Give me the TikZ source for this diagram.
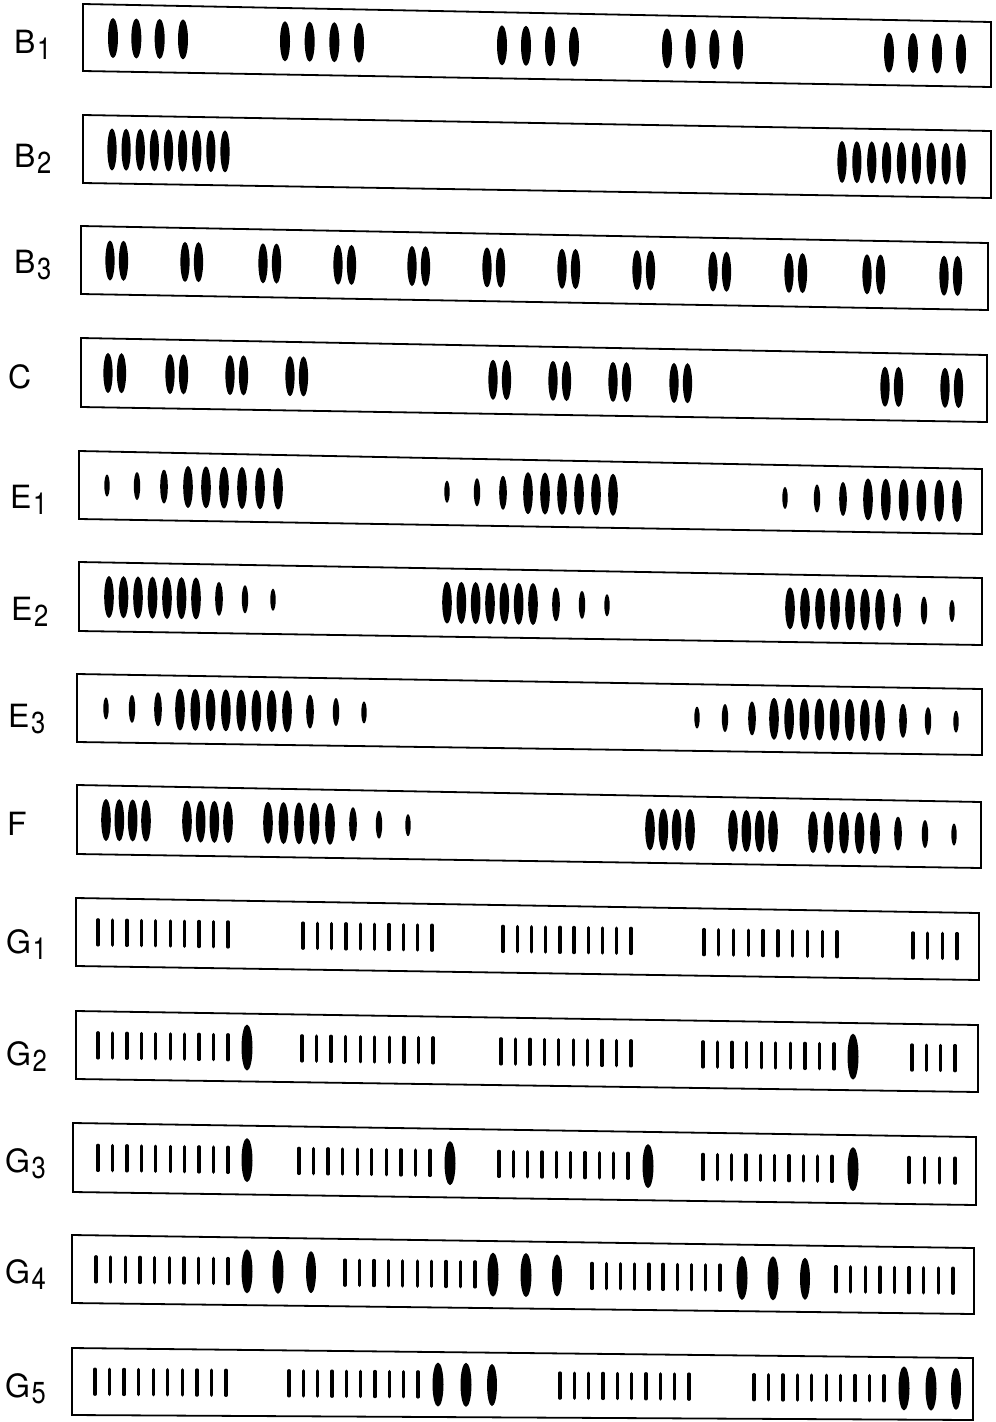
\documentclass[tikz,border=0pt]{standalone}
\usepackage{fontspec}
\setmainfont{TeX Gyre Heros}
\tikzset{
  frame/.style={draw=black, line width=1.8pt, line join=miter},
  barline/.style={line width=3.4pt, line cap=round},
  lab/.style={font=\fontsize{32}{32}\selectfont, inner sep=0pt, anchor=base west}
}
\newcommand\sbs[1]{\kern1.5pt\raisebox{-6pt}{\scalebox{0.8}[0.95]{#1}}}
\newcommand\rowframe[6]{%
  \draw[frame] (#1,-#2) -- (#4,-#5) -- (#4,-#6) -- (#1,-#3) -- cycle;
  \pgfmathsetmacro\nrk{-((#5+#6)-(#2+#3))/2/(#4-#1)}%
  \pgfmathsetmacro\nrc{-((#2+#3)/2+\nrk*#1)}%
}
\newcommand\blob[3]{\fill (#1,0) ellipse [x radius=#2, y radius=#3];}
\newcommand\blobrun[5]{%
  \foreach \i in {1,...,#3}{\pgfmathsetmacro\bx{#1+(\i-1)*(#2-#1)/(#3-1)}\fill (\bx,0) ellipse [x radius=#4, y radius=#5];}}
\newcommand\barrun[3]{%
  \foreach \i in {1,...,#3}{\pgfmathsetmacro\bx{#1+(\i-1)*(#2-#1)/(#3-1)}\draw[barline] (\bx,-12.5) -- (\bx,12.5);}}
\newcommand\sone{2.7}\newcommand\sonr{11}
\newcommand\stwo{3.2}\newcommand\stwr{14}
\newcommand\sthr{3.8}\newcommand\sthrr{17}
\newcommand\bigx{4.8}\newcommand\bigy{21}
\begin{document}
\begin{tikzpicture}[x=1pt,y=1pt]
\useasboundingbox (0,0) rectangle (996,-1422);

% ---------- B1
\node[lab] (lB1) at (14,-53) {B\sbs{1}};
\rowframe{83}{4}{71}{991}{22}{87}
\begin{scope}[cm={1,\nrk,0,1,(0,\nrc)}]
  \blobrun{113}{183}{4}{5}{20}
  \blobrun{285}{359}{4}{5}{20}
  \blobrun{502}{574}{4}{5}{20}
  \blobrun{667}{738}{4}{5}{20}
  \blobrun{889}{961}{4}{5}{20}
\end{scope}

% ---------- B2
\node[lab] (lB2) at (14,-167) {B\sbs{2}};
\rowframe{83}{115}{183}{991}{131}{198}
\begin{scope}[cm={1,\nrk,0,1,(0,\nrc)}]
  \blobrun{112}{225}{9}{4.6}{21}
  \blobrun{842}{961}{9}{4.6}{21}
\end{scope}

% ---------- B3
\node[lab] (lB3) at (14,-273) {B\sbs{3}};
\rowframe{81}{226}{294}{988}{243}{310}
\begin{scope}[cm={1,\nrk,0,1,(0,\nrc)}]
  \foreach \p in {110,185,263,338,412,487,562,637,713,789,867,944}{
    \fill (\p,0) ellipse [x radius=4.6, y radius=20];
    \fill (\p+13.5,0) ellipse [x radius=4.6, y radius=20];}
\end{scope}

% ---------- C
\node[lab] (lC) at (8,-388) {C};
\rowframe{81}{338}{407}{987}{355}{422}
\begin{scope}[cm={1,\nrk,0,1,(0,\nrc)}]
  \foreach \p in {108,170,230,290,493,553,613,674,885,945}{
    \fill (\p,0) ellipse [x radius=4.6, y radius=20];
    \fill (\p+13.5,0) ellipse [x radius=4.6, y radius=20];}
\end{scope}

% ---------- E1
\node[lab] (lE1) at (10,-508) {E\sbs{1}};
\rowframe{79}{451}{519}{982}{469}{534}
\begin{scope}[cm={1,\nrk,0,1,(0,\nrc)}]
  \blob{107}{\sone}{\sonr}\blob{137}{\stwo}{\stwr}\blob{164}{\sthr}{\sthrr}
  \blobrun{188}{278}{6}{\bigx}{\bigy}
  \blob{447}{\sone}{\sonr}\blob{477}{\stwo}{\stwr}\blob{503}{\sthr}{\sthrr}
  \blobrun{528}{613}{6}{\bigx}{\bigy}
  \blob{785}{\sone}{\sonr}\blob{817}{\stwo}{\stwr}\blob{843}{\sthr}{\sthrr}
  \blobrun{868}{957}{6}{\bigx}{\bigy}
\end{scope}

% ---------- E2
\node[lab] (lE2) at (11,-620) {E\sbs{2}};
\rowframe{79}{562}{631}{982}{578}{645}
\begin{scope}[cm={1,\nrk,0,1,(0,\nrc)}]
  \blobrun{109}{196}{7}{\bigx}{\bigy}
  \blob{219}{\sthr}{\sthrr}\blob{245}{\stwo}{\stwr}\blob{273}{\sone}{\sonr}
  \blobrun{447}{533}{7}{\bigx}{\bigy}
  \blob{556}{\sthr}{\sthrr}\blob{582}{\stwo}{\stwr}\blob{607}{\sone}{\sonr}
  \blobrun{790}{880}{7}{\bigx}{\bigy}
  \blob{897}{\sthr}{\sthrr}\blob{924}{\stwo}{\stwr}\blob{952}{\sone}{\sonr}
\end{scope}

% ---------- E3
\node[lab] (lE3) at (8,-727) {E\sbs{3}};
\rowframe{77}{674}{742}{982}{689}{755}
\begin{scope}[cm={1,\nrk,0,1,(0,\nrc)}]
  \blob{106}{\sone}{\sonr}\blob{132}{\stwo}{\stwr}\blob{158}{\sthr}{\sthrr}
  \blobrun{180}{287}{8}{\bigx}{\bigy}
  \blob{310}{\sthr}{\sthrr}\blob{336}{\stwo}{\stwr}\blob{364}{\sone}{\sonr}
  \blob{697}{\sone}{\sonr}\blob{725}{\stwo}{\stwr}\blob{752}{\sthr}{\sthrr}
  \blobrun{774}{880}{8}{\bigx}{\bigy}
  \blob{903}{\sthr}{\sthrr}\blob{928}{\stwo}{\stwr}\blob{956}{\sone}{\sonr}
\end{scope}

% ---------- F
\node[lab] (lF) at (7,-835) {F};
\rowframe{77}{785}{854}{981}{802}{868}
\begin{scope}[cm={1,\nrk,0,1,(0,\nrc)}]
  \blobrun{106}{146}{4}{\bigx}{\bigy}
  \blobrun{187}{228}{4}{\bigx}{\bigy}
  \blobrun{268}{330}{5}{\bigx}{\bigy}
  \blob{353}{\sthr}{\sthrr}\blob{379}{\stwo}{\stwr}\blob{408}{\sone}{\sonr}
  \blobrun{650}{690}{4}{\bigx}{\bigy}
  \blobrun{733}{773}{4}{\bigx}{\bigy}
  \blobrun{813}{875}{5}{\bigx}{\bigy}
  \blob{898}{\sthr}{\sthrr}\blob{925}{\stwo}{\stwr}\blob{954}{\sone}{\sonr}
\end{scope}

% ---------- G1
\node[lab] (lG1) at (6,-953) {G\sbs{1}};
\rowframe{76}{898}{966}{979}{913}{980}
\begin{scope}[cm={1,\nrk,0,1,(0,\nrc)}]
  \barrun{98}{228}{10}\barrun{303}{432}{10}\barrun{503}{631}{10}
  \barrun{704}{837}{10}\barrun{913}{957}{4}
\end{scope}

% ---------- G2
\node[lab] (lG2) at (6,-1065) {G\sbs{2}};
\rowframe{76}{1011}{1079}{978}{1025}{1092}
\begin{scope}[cm={1,\nrk,0,1,(0,\nrc)}]
  \barrun{98}{228}{10}\blob{247}{5.5}{23}
  \barrun{302}{433}{10}\barrun{501}{631}{10}
  \barrun{703}{834}{10}\blob{853}{5.5}{23}
  \barrun{912}{955}{4}
\end{scope}

% ---------- G3
\node[lab] (lG3) at (5,-1172) {G\sbs{3}};
\rowframe{73}{1123}{1192}{976}{1137}{1205}
\begin{scope}[cm={1,\nrk,0,1,(0,\nrc)}]
  \barrun{98}{228}{10}\blob{247}{5.5}{22}
  \barrun{299}{430}{10}\blob{450}{5.5}{22}
  \barrun{499}{628}{10}\blob{648}{5.5}{22}
  \barrun{703}{832}{10}\blob{853}{5.5}{22}
  \barrun{909}{955}{4}
\end{scope}

% ---------- G4
\node[lab] (lG4) at (5,-1283) {G\sbs{4}};
\rowframe{72}{1235}{1303}{974}{1248}{1314}
\begin{scope}[cm={1,\nrk,0,1,(0,\nrc)}]
  \barrun{96}{228}{10}\blob{247}{5.5}{22}\blob{278}{5.5}{22}\blob{311}{5}{21}
  \barrun{345}{475}{10}\blob{493}{5.5}{22}\blob{526}{5.5}{22}\blob{557}{5}{21}
  \barrun{592}{720}{10}\blob{742}{5.5}{22}\blob{773}{5.5}{22}\blob{805}{5}{21}
  \barrun{836}{953}{9}
\end{scope}

% ---------- G5
\node[lab] (lG5) at (5,-1397) {G\sbs{5}};
\rowframe{72}{1348}{1415}{973}{1358}{1420}
\begin{scope}[cm={1,\nrk,0,1,(0,\nrc)}]
  \barrun{95}{226}{10}
  \barrun{289}{418}{10}\blob{438}{5.5}{22}\blob{466}{5.5}{22}\blob{492}{5}{21}
  \barrun{560}{689}{10}
  \barrun{754}{884}{10}\blob{904}{5.5}{22}\blob{931}{5.5}{22}\blob{956}{5}{21}
\end{scope}
\end{tikzpicture}
\end{document}
